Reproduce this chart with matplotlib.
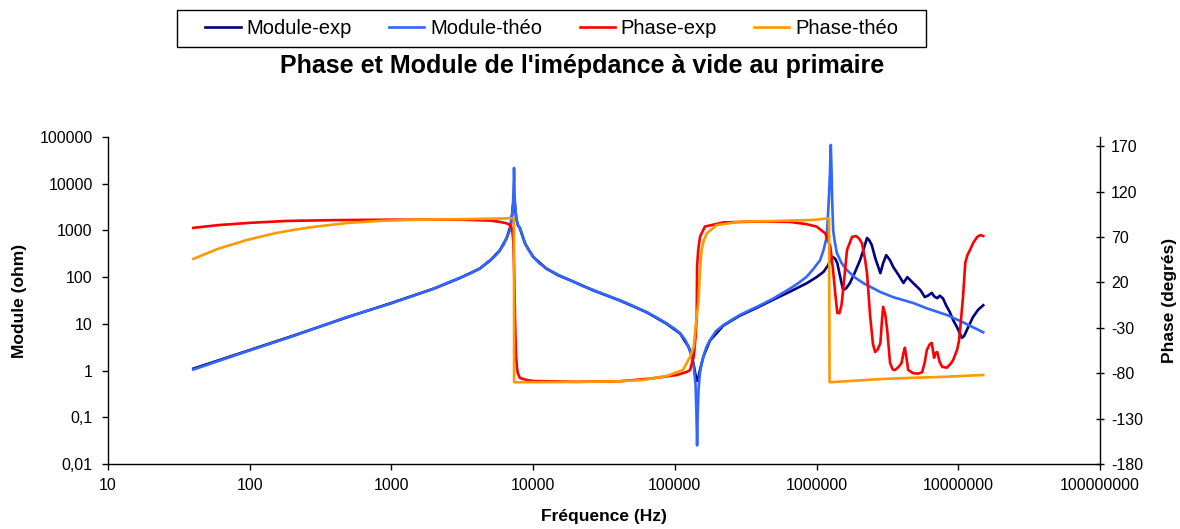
import matplotlib
matplotlib.use('Agg')
import matplotlib.pyplot as plt
from matplotlib.patches import Rectangle
from matplotlib.ticker import FixedLocator, FixedFormatter, NullLocator

plt.rcParams['font.family'] = ['Liberation Sans', 'DejaVu Sans']
plt.rcParams['axes.unicode_minus'] = False

# Module théorique (ohm)
f_mod_theo = [40, 60, 100, 200, 486, 1000, 2000, 2466, 3000, 3600, 4217, 5000, 5500, 5837,
              6200, 6500, 6871, 7000, 7100, 7200, 7250, 7300, 7330, 7370, 7400, 7500, 7600,
              7800, 8070, 8770, 9300, 10000, 11000, 12400, 15000, 18200, 22000, 26600,
              33000, 41000, 51000, 63000, 75000, 87600, 100000, 109000, 118000, 125000,
              131000, 136000, 140000, 142000, 143500, 145000, 147000, 150000, 154000,
              159000, 167000, 177000, 195000, 220000, 250000, 288000, 330000, 378000,
              430000, 496000, 570000, 650000, 750000, 851000, 950000, 1060000, 1120000,
              1180000, 1220000, 1245000, 1260000, 1275000, 1290000, 1310000, 1340000,
              1390000, 1500000, 1640000, 1850000, 2130000, 2500000, 2820000, 3500000,
              4800000, 6000000, 8300000, 11000000, 15000000]
z_mod_theo = [1.05, 1.6, 2.7, 5.4, 14, 27.5, 57, 75, 95, 120, 155, 235, 300, 380,
              500, 700, 1020, 1400, 2000, 3500, 6000, 12000, 21800, 12000, 5000, 2800, 1800,
              1300, 1150, 530, 380, 274, 200, 154, 112, 87, 66, 53,
              41, 32, 24, 18, 13.5, 10.2, 7.8, 6.3, 4.6, 3.2,
              2.1, 1.2, 0.5, 0.12, 0.025, 0.12, 0.4, 0.85, 1.35,
              1.98, 3.2, 4.5, 7, 9.4, 12, 15.5, 19, 23,
              28, 35, 45, 57, 76, 102, 150, 232, 380,
              733, 4470, 20000, 67600, 20000, 4000, 1000, 600,
              330, 200, 141, 100, 75, 58, 48, 37,
              28, 21.5, 15.5, 10.5, 6.6]

# Module expérimental (ohm)
f_mod_exp = [40, 100, 200, 500, 1000, 2000, 3000, 4200, 5000, 5800, 6500, 6900, 7100, 7250,
             7330, 7420, 7600, 7800, 8070, 8770, 10000, 12400, 15000, 18200, 26600, 41000,
             63000, 87600, 109000, 125000, 131000, 136000, 140000, 143500, 147000, 150000,
             159000, 177000, 220000, 288000, 378000, 496000, 650000, 851000, 1000000,
             1120000, 1200000, 1250000, 1300000, 1350000, 1400000, 1480000, 1540000,
             1620000, 1720000, 1850000, 2030000, 2150000, 2270000, 2350000, 2450000,
             2600000, 2820000, 2950000, 3100000, 3300000, 3470000, 3800000, 4100000,
             4370000, 4800000, 5400000, 5800000, 6100000, 6500000, 6800000, 7100000,
             7400000, 7800000, 8200000, 8700000, 9200000, 9800000, 10600000, 11000000,
             11500000, 12700000, 13800000, 15000000]
z_mod_exp = [1.1, 2.75, 5.5, 14.2, 28, 57, 94, 152, 230, 370, 680, 1200, 2200, 4000,
             5500, 3800, 1800, 1300, 1100, 520, 272, 152, 110, 86, 52, 31.5,
             17.8, 10, 6.2, 3.2, 2.2, 1.3, 0.8, 0.6, 0.75, 1.0,
             2.0, 4.4, 9.2, 15, 22, 33, 49, 74, 100,
             130, 175, 230, 270, 250, 200, 90, 53,
             58, 75, 120, 234, 400, 690, 620, 490,
             250, 122, 200, 296, 230, 166, 110, 75,
             100, 75, 53, 37.5, 40, 46, 38, 35.5,
             40, 35, 25, 18, 12, 8.5, 5, 5.5,
             7.4, 14, 20, 25]

# Phase expérimentale (degrés)
f_ph_exp = [40, 60, 100, 183, 400, 1000, 3000, 5000, 5837, 6500, 6871, 7100, 7250, 7350,
            7450, 7570, 7700, 7800, 8070, 9000, 10000, 20000, 40000, 66800, 103500,
            122000, 128000, 136000, 140000, 142600, 143500, 146000, 150700, 163000,
            220000, 400000, 650000, 850000, 1000000, 1150000, 1250000, 1300000, 1350000,
            1400000, 1450000, 1500000, 1540000, 1640000, 1780000, 1900000, 2000000,
            2090000, 2200000, 2270000, 2390000, 2500000, 2590000, 2700000, 2820000,
            2900000, 2950000, 3050000, 3150000, 3300000, 3450000, 3580000, 3800000,
            3980000, 4100000, 4200000, 4300000, 4430000, 4800000, 5200000, 5560000,
            5800000, 6000000, 6300000, 6500000, 6750000, 6900000, 7100000, 7400000,
            7700000, 8300000, 8800000, 9200000, 9800000, 10100000, 10300000, 10600000,
            10800000, 11200000, 11600000, 12100000, 12800000, 13600000, 14300000, 15000000]
p_ph_exp = [80, 83, 85.5, 87.6, 88.5, 89, 89, 88, 86.5, 85, 83, 79, 65, 30,
            -20, -60, -75, -80, -85.3, -87.5, -88.6, -89.5, -89, -86, -82,
            -78.5, -76.5, -61.8, -40, -17.8, 37, 55, 70.4, 81.4,
            86, 87, 86.5, 84, 81.4, 74, 59.6, 37.3, 10,
            -13.7, -14, -5, 11.6, 55.7, 70, 71, 68,
            63, 45, 30, -18, -48, -56.7, -54, -46.7,
            -20, -7, -15, -32.4, -68.8, -76, -76.5, -73,
            -68.8, -58, -52, -62, -76.5, -80, -80.5, -79,
            -68, -54.4, -48, -46.7, -63, -58, -56.7, -68,
            -73, -74, -70, -65.5, -54.4, -45, -32.4, -10,
            3.9, 41.4, 50, 55.7, 64, 70, 72, 71]

# Phase théorique (degrés)
f_ph_theo = [40, 60, 96, 150, 200, 280, 500, 800, 1290, 3000, 7320, 7340, 20000, 39000,
             60000, 88000, 114000, 128000, 136000, 141000, 146900, 150700, 154500, 160000,
             168000, 197000, 288000, 500000, 950000, 1225000, 1235000, 2000000, 2800000,
             5000000, 8000000, 15000000]
p_ph_theo = [45.8, 57, 66.7, 74, 77.5, 81, 85.5, 87.5, 88.7, 89.5, 90.5, -90, -89.7, -89,
             -87.5, -83, -76.5, -62, -50.7, -25, -0.4, 35, 55.7, 66,
             74, 83, 86.8, 87.5, 88.7, 90.5, -90, -88, -86.5,
             -85, -84, -82]

x_ticks = [10, 100, 1000, 10000, 100000, 1000000, 10000000, 100000000]
y_ticks = [0.01, 0.1, 1, 10, 100, 1000, 10000, 100000]
y_labels = ['0,01', '0,1', '1', '10', '100', '1000', '10000', '100000']
ph_ticks = [-180, -130, -80, -30, 20, 70, 120, 170]

fig = plt.figure(figsize=(11.8, 5.29), dpi=100)
ax = fig.add_axes([108 / 1180, 1 - 464 / 529, 992 / 1180, 327 / 529])
ax2 = ax.twinx()

l1, = ax.plot(f_mod_exp, z_mod_exp, color='#000080', lw=1.9, label='Module-exp')
l2, = ax.plot(f_mod_theo, z_mod_theo, color='#3366FF', lw=1.9, label='Module-théo')
l3, = ax2.plot(f_ph_exp, p_ph_exp, color='#FF0000', lw=1.9, label='Phase-exp')
l4, = ax2.plot(f_ph_theo, p_ph_theo, color='#FF9900', lw=1.9, label='Phase-théo')

ax.set_xscale('log')
ax.set_yscale('log')
ax.set_xlim(10, 1e8)
ax.set_ylim(0.01, 100000)
ax2.set_ylim(-180, 180)

ax.xaxis.set_major_locator(FixedLocator(x_ticks))
ax.xaxis.set_major_formatter(FixedFormatter([str(v) for v in x_ticks]))
ax.xaxis.set_minor_locator(NullLocator())
ax.yaxis.set_major_locator(FixedLocator(y_ticks))
ax.yaxis.set_major_formatter(FixedFormatter(y_labels))
ax.yaxis.set_minor_locator(NullLocator())
ax2.set_yticks(ph_ticks)

for a in (ax, ax2):
    for s in a.spines.values():
        s.set_color('black')
        s.set_linewidth(1.0)
    a.spines['top'].set_visible(False)
ax.spines['right'].set_visible(False)
ax2.spines['left'].set_visible(False)
ax2.spines['bottom'].set_visible(False)

ax.tick_params(axis='x', direction='out', length=4, width=1, labelsize=11.5, pad=6)
ax.tick_params(axis='y', direction='out', length=4, width=1, labelsize=11.5, pad=7)
ax2.tick_params(axis='y', direction='inout', length=6, width=1, labelsize=11.5, pad=5)

ax.set_xlabel('Fréquence (Hz)', fontsize=12.5, fontweight='bold')
ax.set_ylabel('Module (ohm)', fontsize=12.5, fontweight='bold')
ax2.set_ylabel('Phase (degrés)', fontsize=12.5, fontweight='bold')
ax.xaxis.set_label_coords(0.5, -0.138)
ax.yaxis.set_label_coords(-0.082, 0.5)
ax2.yaxis.set_label_coords(1.0625, 0.5)

fig.text(582 / 1180, 1 - 66 / 529, "Phase et Module de l'imépdance à vide au primaire",
         ha='center', va='center', fontsize=18, fontweight='bold')

fig.patches.append(Rectangle((177 / 1180, 1 - 47 / 529), 749 / 1180, 37 / 529,
                             transform=fig.transFigure, fill=False, edgecolor='black',
                             lw=1.0, zorder=5))
fig.legend(handles=[l1, l2, l3, l4], loc='center', bbox_to_anchor=(552 / 1180, 1 - 28.5 / 529),
           ncol=4, frameon=False, fontsize=14.5, handlelength=1.75, handletextpad=0.3,
           columnspacing=1.84, borderpad=0.2)

fig.savefig('out.png', dpi=100)
